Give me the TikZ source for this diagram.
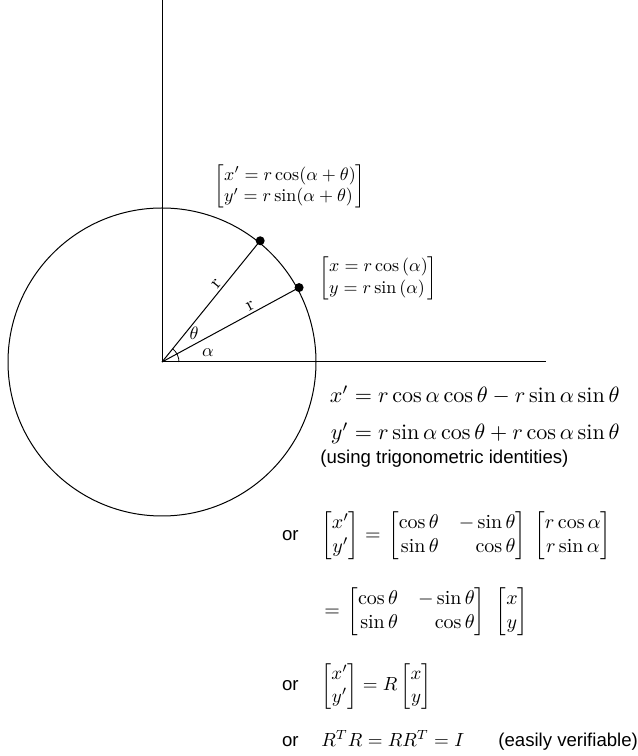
\documentclass[tikz,border=0pt]{standalone}
\usepackage{amsmath}
\usepackage{mathtools}
\usepackage{fontspec}
\newfontfamily\orsans{Liberation Sans}

\begin{document}
\begin{tikzpicture}[
  x=1pt,y=1pt,
  axisline/.style={draw=black, line width=1pt},
  rayline/.style={draw=black, line width=1pt},
  dotmark/.style={fill=black},
  pointlabel/.style={scale=1.8, inner sep=0pt},
  anglelabel/.style={scale=1.8, inner sep=0pt},
  bigeq/.style={scale=2.21, inner sep=0pt},
  mateq/.style={scale=2.0, inner sep=0pt},
  smalleq/.style={scale=1.9, inner sep=0pt},
  orword/.style={font=\orsans, scale=1.86, inner sep=0pt}
]
\path[use as bounding box] (0,0) rectangle (638,756);

% Axes and circle
\coordinate (O)    at (162,394);
\coordinate (Ytop) at (162,756);
\coordinate (Xend) at (546,394);
\draw[axisline] (O) -- (Ytop);
\draw[axisline] (O) -- (Xend);
\draw[axisline] (O) circle[radius=154];

% The two points on the circle
\path (O) ++(28.5:156) coordinate (P);
\path (O) ++(51:156)   coordinate (Pnew);
\draw[rayline] (O) -- (P)    node[pos=0.67, above, sloped, scale=1.9, inner sep=1pt] (rlow) {r};
\draw[rayline] (O) -- (Pnew) node[pos=0.61, above, sloped, scale=1.9, inner sep=1pt] (rhigh) {r};
\fill[dotmark] (P) circle[radius=4.5];
\fill[dotmark] (Pnew) circle[radius=4.5];

% Angle mark and angle names
\draw[line width=0.8pt] (O) ++(17,0) arc[start angle=0, end angle=51, radius=17];
\path (O) ++(41.6:43) node[anglelabel] (theta) {$\theta$};
\path (O) ++(11.8:47) node[anglelabel] (alpha) {$\alpha$};

% Coordinates of the points
\node[pointlabel] (newlab) at (290,569.5)
  {$\begin{bmatrix*}[l] x' = r\cos(\alpha+\theta)\\ y' = r\sin(\alpha+\theta)\end{bmatrix*}$};
\node[pointlabel] (oldlab) at (378.5,478)
  {$\begin{bmatrix*}[l] x = r\cos\left(\alpha\right)\\ y = r\sin\left(\alpha\right)\end{bmatrix*}$};

% Expanded form
\node[bigeq, anchor=base east] (xexp) at (620,353)
  {$x' = r\cos\alpha\cos\theta - r\sin\alpha\sin\theta$};
\node[bigeq, anchor=base east] (yexp) at (620,316)
  {$y' = r\sin\alpha\cos\theta + r\cos\alpha\sin\theta$};
\node[orword, anchor=base west] (trig) at (320,292) {(using trigonometric identities)};

% Matrix forms
\node[orword, anchor=base east] (orone) at (299,215) {or};
\node[mateq, anchor=base west] (matone) at (321,215)
  {$\begin{bmatrix} x'\\ y'\end{bmatrix} =\hspace{1pt}
    \begin{bmatrix*}[r] \cos\theta & -\sin\theta\\ \sin\theta & \cos\theta\end{bmatrix*}\hspace{2.5pt}
    \begin{bmatrix} r\cos\alpha\\ r\sin\alpha\end{bmatrix}$};
\node[mateq, anchor=base west] (mattwo) at (324,139)
  {$= \hspace{1pt}\begin{bmatrix*}[r] \cos\theta & -\sin\theta\\ \sin\theta & \cos\theta\end{bmatrix*}\hspace{3.5pt}
    \begin{bmatrix} x\\ y\end{bmatrix}$};
\node[orword, anchor=base east] (orthree) at (299,65) {or};
\node[smalleq, anchor=base west] (matthree) at (321,65)
  {$\begin{bmatrix} x'\\ y'\end{bmatrix} = R\begin{bmatrix} x\\ y\end{bmatrix}$};
\node[orword, anchor=base east] (orfour) at (299,10) {or};
\node[smalleq, anchor=base west] (orth) at (321,10) {$R^TR = RR^T = I$};
\node[orword, anchor=base west] (verif) at (498,10) {(easily verifiable)};

\end{tikzpicture}
\end{document}
